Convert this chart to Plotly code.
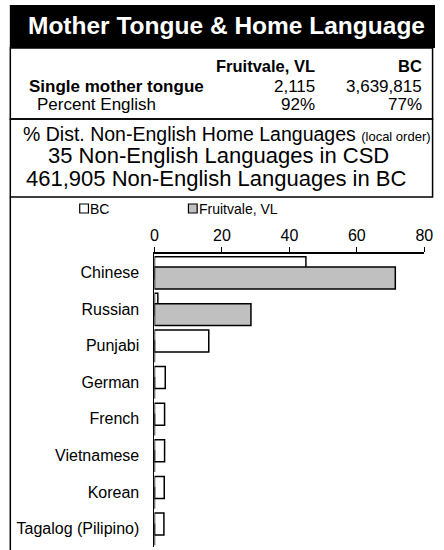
import plotly.graph_objects as go

W, H = 444, 550

languages = ["Chinese", "Russian", "Punjabi", "German", "French",
             "Vietnamese", "Korean", "Tagalog (Pilipino)"]
bc_values = [44.9, 1.0, 16.1, 3.2, 3.0, 3.0, 2.9, 2.8]
fruitvale_values = [71.4, 28.6, 0, 0, 0, 0, 0, 0]
series_names = ["BC", "Fruitvale, VL"]
x_ticks = [0, 20, 40, 60, 80]

title_text = "Mother Tongue & Home Language"
table_header = ["Fruitvale, VL", "BC"]
table_rows = ["Single mother tongue", "Percent English"]
table_fruitvale = ["2,115", "92%"]
table_bc = ["3,639,815", "77%"]
subtitle_lines = ["% Dist. Non-English Home Languages",
                  "35 Non-English Languages in CSD",
                  "461,905 Non-English Languages in BC"]
subtitle_small = "(local order)"

FONT = "Liberation Sans, Arial, sans-serif"

def px(x):
    return x / W

def py(y):
    return 1 - y / H

fig = go.Figure()
fig.add_trace(go.Bar(
    y=languages, x=bc_values, orientation="h", name=series_names[0],
    marker=dict(color="white", line=dict(color="black", width=1.5)),
    width=0.6, offset=-0.426, showlegend=False, hoverinfo="skip",
))
fig.add_trace(go.Bar(
    y=languages, x=fruitvale_values, orientation="h", name=series_names[1],
    marker=dict(color="#C0C0C0", line=dict(color="black", width=1.5)),
    width=0.6, offset=-0.145, showlegend=False, hoverinfo="skip",
))

shapes = [
    dict(type="rect", xref="paper", yref="paper", x0=px(6), x1=px(444), y0=py(5), y1=py(48),
         fillcolor="black", line=dict(width=0)),
    dict(type="rect", xref="paper", yref="paper", x0=px(6.5), x1=px(441.5), y0=py(48), y1=py(119),
         line=dict(color="black", width=1.5)),
    dict(type="rect", xref="paper", yref="paper", x0=px(6.5), x1=px(441.5), y0=py(119), y1=py(197),
         line=dict(color="black", width=1.5)),
    dict(type="line", xref="paper", yref="paper", x0=px(6.5), x1=px(6.5), y0=py(197), y1=py(550),
         line=dict(color="black", width=1.5)),
    # legend swatches
    dict(type="rect", xref="paper", yref="paper", x0=px(78), x1=px(87), y0=py(204), y1=py(213),
         fillcolor="white", line=dict(color="black", width=1.2)),
    dict(type="rect", xref="paper", yref="paper", x0=px(190), x1=px(199), y0=py(204), y1=py(213),
         fillcolor="#C0C0C0", line=dict(color="black", width=1.2)),
]

ann = []
ann.append(dict(text="<b>%s</b>" % title_text, x=px(229.5), y=py(26), xref="paper", yref="paper",
                showarrow=False, xanchor="center", yanchor="middle",
                font=dict(family=FONT, size=24.5, color="white")))
# table
TF = 17
ann.append(dict(text="<b>%s</b>" % table_header[0], x=px(322), y=py(66), xref="paper", yref="paper",
                showarrow=False, xanchor="right", yanchor="middle", font=dict(family=FONT, size=16.5, color="black")))
ann.append(dict(text="<b>%s</b>" % table_header[1], x=px(433), y=py(66), xref="paper", yref="paper",
                showarrow=False, xanchor="right", yanchor="middle", font=dict(family=FONT, size=16.5, color="black")))
row_y = [86.5, 104.5]
row_x = [24, 32]
for i, r in enumerate(table_rows):
    label = "<b>%s</b>" % r if i == 0 else r
    ann.append(dict(text=label, x=px(row_x[i]), y=py(row_y[i]), xref="paper", yref="paper",
                    showarrow=False, xanchor="left", yanchor="middle", font=dict(family=FONT, size=TF, color="black")))
    ann.append(dict(text=table_fruitvale[i], x=px(322), y=py(row_y[i]), xref="paper", yref="paper",
                    showarrow=False, xanchor="right", yanchor="middle", font=dict(family=FONT, size=TF, color="black")))
    ann.append(dict(text=table_bc[i], x=px(433), y=py(row_y[i]), xref="paper", yref="paper",
                    showarrow=False, xanchor="right", yanchor="middle", font=dict(family=FONT, size=TF, color="black")))
# subtitle box
ann.append(dict(text="%s <span style='font-size:13px'>%s</span>" % (subtitle_lines[0], subtitle_small),
                x=px(230), y=py(134), xref="paper", yref="paper", showarrow=False,
                xanchor="center", yanchor="middle", font=dict(family=FONT, size=19.5, color="black")))
ann.append(dict(text=subtitle_lines[1], x=px(221), y=py(155.5), xref="paper", yref="paper", showarrow=False,
                xanchor="center", yanchor="middle", font=dict(family=FONT, size=22, color="black")))
ann.append(dict(text=subtitle_lines[2], x=px(218), y=py(178.5), xref="paper", yref="paper", showarrow=False,
                xanchor="center", yanchor="middle", font=dict(family=FONT, size=22, color="black")))
# legend text
ann.append(dict(text=series_names[0], x=px(87), y=py(208.5), xref="paper", yref="paper", showarrow=False,
                xanchor="left", yanchor="middle", font=dict(family=FONT, size=14, color="black")))
ann.append(dict(text=series_names[1], x=px(199), y=py(208.5), xref="paper", yref="paper", showarrow=False,
                xanchor="left", yanchor="middle", font=dict(family=FONT, size=14, color="black")))

fig.update_layout(
    width=W, height=H, margin=dict(l=0, r=0, t=0, b=0),
    paper_bgcolor="white", plot_bgcolor="white",
    barmode="overlay", showlegend=False,
    shapes=shapes, annotations=ann,
    font=dict(family=FONT, color="black"),
    xaxis=dict(domain=[px(155), px(433)], range=[0, 80], side="top",
               tickvals=x_ticks, ticks="outside", ticklen=5, tickcolor="black", tickwidth=1,
               showline=True, linecolor="black", linewidth=1.5, showgrid=False, zeroline=False,
               tickfont=dict(family=FONT, size=16, color="black")),
    yaxis=dict(domain=[1 - 547 / H, 1 - 254 / H], autorange="reversed", type="category",
               showline=True, linecolor="black", linewidth=1, showgrid=False, zeroline=False,
               ticks="", ticklabelstandoff=11,
               tickfont=dict(family=FONT, size=16, color="black")),
)

fig.write_html("out.html", config={"displayModeBar": False},
               post_script="document.body.style.margin='0';document.body.style.padding='0';")
